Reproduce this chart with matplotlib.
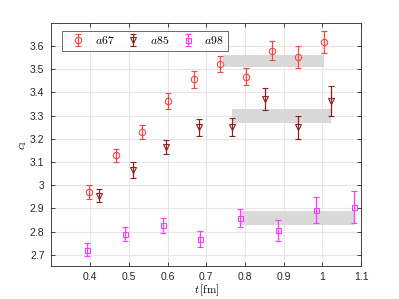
import matplotlib
matplotlib.use("Agg")
import matplotlib.pyplot as plt
import numpy as np

plt.rcParams["mathtext.fontset"] = "cm"
plt.rcParams["font.family"] = ["Liberation Sans", "DejaVu Sans"]

# a67 data
t67 = [0.398, 0.467, 0.535, 0.601, 0.667, 0.736, 0.802, 0.870, 0.937, 1.004]
c67 = [2.972, 3.128, 3.229, 3.362, 3.456, 3.522, 3.468, 3.580, 3.553, 3.617]
e67 = [0.030, 0.030, 0.032, 0.034, 0.037, 0.036, 0.038, 0.042, 0.047, 0.048]
# a85 data
t85 = [0.424, 0.510, 0.597, 0.680, 0.767, 0.852, 0.937, 1.023]
c85 = [2.955, 3.066, 3.164, 3.250, 3.250, 3.371, 3.250, 3.362]
e85 = [0.029, 0.033, 0.030, 0.036, 0.039, 0.047, 0.050, 0.065]
# a98 data
t98 = [0.393, 0.491, 0.588, 0.684, 0.786, 0.885, 0.983, 1.082]
c98 = [2.722, 2.791, 2.827, 2.768, 2.859, 2.805, 2.893, 2.905]
e98 = [0.029, 0.030, 0.031, 0.033, 0.038, 0.047, 0.058, 0.069]

# fit bands: (t_start, t_end, center, half-width)
band67 = (0.743, 1.004, 3.535, 0.025)
band85 = (0.767, 1.023, 3.298, 0.029)
band98 = (0.789, 1.082, 2.857, 0.030)

labels = ["$a67$", "$a85$", "$a98$"]
colors = ["#f24848", "#8c2020", "#ff3cff"]
markers = ["o", "v", "s"]

xticks = [0.4, 0.5, 0.6, 0.7, 0.8, 0.9, 1.0, 1.1]
xticklabels = ["0.4", "0.5", "0.6", "0.7", "0.8", "0.9", "1", "1.1"]
yticks = [2.7, 2.8, 2.9, 3.0, 3.1, 3.2, 3.3, 3.4, 3.5, 3.6]
yticklabels = ["2.7", "2.8", "2.9", "3", "3.1", "3.2", "3.3", "3.4", "3.5", "3.6"]

fig = plt.figure(figsize=(3.99, 2.99), dpi=100)
ax = fig.add_axes([0.129, 0.109, 0.776, 0.815])

for b in (band67, band85, band98):
    ax.fill_between([b[0], b[1]], b[2] - b[3], b[2] + b[3], color="#d9d9d9", lw=0, zorder=1)

msizes = [4.6, 4.8, 3.6]
for t, c, e, lab, col, m, ms in zip([t67, t85, t98], [c67, c85, c98], [e67, e85, e98],
                                   labels, colors, markers, msizes):
    ax.errorbar(t, c, yerr=e, fmt=m, mfc="none", mec=col, ecolor=col, color=col,
                ms=ms, mew=0.8, elinewidth=0.9, capsize=2.5, capthick=0.9, label=lab, zorder=3)

ax.set_xlim(0.3, 1.1)
ax.set_ylim(2.65, 3.7)
ax.set_xticks(xticks)
ax.set_xticklabels(xticklabels)
ax.set_yticks(yticks)
ax.set_yticklabels(yticklabels)
ax.grid(True, color="#e6e6e6", lw=0.8, zorder=0)
ax.set_axisbelow(True)
ax.tick_params(direction="in", top=True, right=True, labelsize=7.5, colors="#262626",
               length=3, width=0.6)
ax.tick_params(axis="x", pad=4)
ax.tick_params(axis="y", pad=5)
for s in ax.spines.values():
    s.set_color("#262626")
    s.set_linewidth(0.6)

ax.set_xlabel(r"$t\,[\mathrm{fm}]$", fontsize=8)
ax.xaxis.set_label_coords(0.501, -0.066)
ax.set_ylabel(r"$c_1$", fontsize=8)
ax.yaxis.set_label_coords(-0.072, 0.5)

leg = ax.legend(loc="upper left", bbox_to_anchor=(0.033, 0.966), ncol=3, fontsize=8.5,
                frameon=True, fancybox=False, borderaxespad=0, handletextpad=0.34,
                columnspacing=0.54, borderpad=0.35, handlelength=2.1)
leg.get_frame().set_edgecolor("#262626")
leg.get_frame().set_linewidth(0.6)

fig.savefig("out.png", dpi=100)
